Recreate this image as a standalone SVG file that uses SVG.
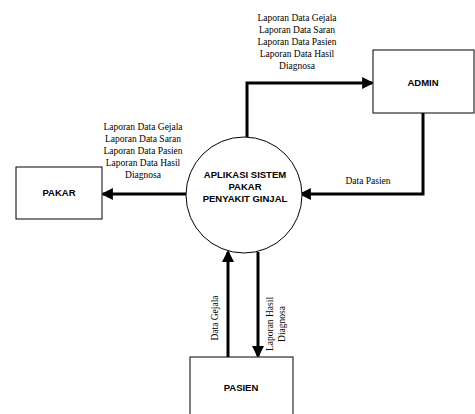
<svg xmlns="http://www.w3.org/2000/svg" width="475" height="414" viewBox="0 0 475 414">
<style>
.box{fill:#fff;stroke:#000;stroke-width:1}
.ent{font-family:"Liberation Sans",Arial,sans-serif;font-weight:bold;font-size:9.5px;text-anchor:middle}
.lbl{font-family:"Liberation Serif","Times New Roman",serif;font-size:9.5px;text-anchor:middle}
.flow{fill:none;stroke:#000;stroke-width:3}
</style>
<defs>
<marker id="ah" markerWidth="4" markerHeight="4" refX="3.3" refY="2" orient="auto" markerUnits="strokeWidth">
<path d="M0,0 L4,2 L0,4 z" fill="#000"/>
</marker>
</defs>
<rect width="475" height="414" fill="#fff"/>
<g id="connectors">
<path class="flow" d="M247,137 V83 H372" marker-end="url(#ah)"/>
<path class="flow" d="M423,113 V194 H301" marker-end="url(#ah)"/>
<path class="flow" d="M186,194 H103" marker-end="url(#ah)"/>
<path class="flow" d="M228,357 V252" marker-end="url(#ah)"/>
<path class="flow" d="M258,252 V356" marker-end="url(#ah)"/>
<g class="lbl">
<text x="297" y="21">Laporan Data Gejala</text>
<text x="297" y="33">Laporan Data Saran</text>
<text x="297" y="45">Laporan Data Pasien</text>
<text x="297" y="57">Laporan Data Hasil</text>
<text x="297" y="69">Diagnosa</text>
<text x="143" y="130">Laporan Data Gejala</text>
<text x="143" y="142">Laporan Data Saran</text>
<text x="143" y="154">Laporan Data Pasien</text>
<text x="143" y="166">Laporan Data Hasil</text>
<text x="143" y="178">Diagnosa</text>
<text x="368" y="184">Data Pasien</text>
<text transform="translate(218,318) rotate(-90)">Data Gejala</text>
<text transform="translate(273,324) rotate(-90)">Laporan Hasil</text>
<text transform="translate(285,324) rotate(-90)">Diagnosa</text>
</g>
</g>
<g id="proses">
<circle cx="244" cy="195" r="58" fill="#fff" stroke="#000" stroke-width="1"/>
<text class="ent" x="245" y="178">APLIKASI SISTEM</text>
<text class="ent" x="245" y="190">PAKAR</text>
<text class="ent" x="245" y="202">PENYAKIT GINJAL</text>
</g>
<g id="admin">
<rect class="box" x="373" y="50" width="101" height="63"/>
<text class="ent" x="423" y="86">ADMIN</text>
</g>
<g id="pakar">
<rect class="box" x="16" y="167" width="86" height="52"/>
<text class="ent" x="59" y="196">PAKAR</text>
</g>
<g id="pasien">
<rect class="box" x="190" y="357" width="103" height="70"/>
<text class="ent" x="241" y="391">PASIEN</text>
</g>
</svg>
